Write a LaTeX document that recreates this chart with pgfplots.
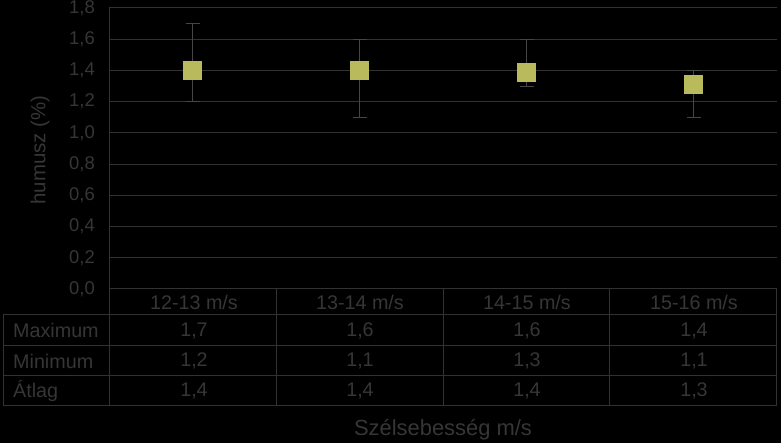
\documentclass[border=0pt]{standalone}
\usepackage{pgfplots}
\pgfplotsset{compat=1.18}
\usepackage{fontspec}
\setmainfont{Liberation Sans}
\definecolor{gridc}{RGB}{50,50,50}
\definecolor{txt}{RGB}{54,54,54}
\definecolor{errc}{RGB}{70,70,70}
\definecolor{mk}{RGB}{184,186,92}
\newcommand{\tf}{\fontsize{18.5}{20}\selectfont}
\newcommand{\cf}{\fontsize{19.8}{21}\selectfont}
\begin{document}
\begin{tikzpicture}
\fill[black] (0bp,0bp) rectangle (781bp,443bp);
\begin{axis}[
  at={(109bp,154bp)}, anchor=south west,
  scale only axis, width=668bp, height=281bp,
  xmin=0.5, xmax=4.5, ymin=0, ymax=1.8,
  xtick=\empty,
  ytick={0,0.2,0.4,0.6,0.8,1.0,1.2,1.4,1.6,1.8},
  ymajorgrids, grid style={gridc, line width=1bp},
  axis lines*=left,
  axis line style={gridc, line width=1bp, -},
  ytick style={draw=none},
  /pgf/number format/.cd, fixed, fixed zerofill, precision=1, use comma, assume math mode=true,
  /pgfplots/.cd,
  yticklabel style={font=\tf, text=txt, inner sep=0pt, xshift=-14bp},
  ylabel={humusz (\%)},
  ylabel style={font=\fontsize{20.5}{22}\selectfont, text=txt, at={(axis description cs:-0.1033,0.495)}, anchor=center},
  xlabel={Szélsebesség m/s},
  xlabel style={font=\fontsize{22}{24}\selectfont, text=txt, at={(axis description cs:0.5,-0.502)}, anchor=center},
  clip=false,
]
\addplot[only marks, mark=square*, mark size=9bp, mark options={fill=mk, draw=mk},
  error bars/.cd, y dir=both, y explicit,
  error bar style={errc, line width=1bp},
  error mark options={rotate=90, mark size=7bp, errc, line width=1bp}]
  coordinates {
  (1,1.40) += (0,0.30) -= (0,0.20)
  (2,1.40) += (0,0.20) -= (0,0.30)
  (3,1.39) += (0,0.21) -= (0,0.09)
  (4,1.31) += (0,0.09) -= (0,0.21)
};
\end{axis}
% table below the plot
\begin{scope}[gridc, line width=1bp]
\foreach \yy in {128,97,67,37} \draw (3bp,\yy bp) -- (776bp,\yy bp);
\draw (3bp,128bp) -- (3bp,37bp);
\foreach \xx in {109,276,443,609,776} \draw (\xx bp,154bp) -- (\xx bp,37bp);
\end{scope}
\begin{scope}[every node/.style={font=\cf, text=txt, inner sep=0pt}]
\node at (194bp,141bp) {12-13 m/s};
\node at (360bp,141bp) {13-14 m/s};
\node at (527bp,141bp) {14-15 m/s};
\node at (694bp,141bp) {15-16 m/s};
\node[anchor=west] at (13bp,112.5bp) {Maximum};
\node[anchor=west] at (13bp,82bp) {Minimum};
\node[anchor=west] at (13bp,52bp) {Átlag};
\node at (194bp,112.5bp) {1,7};
\node at (360bp,112.5bp) {1,6};
\node at (527bp,112.5bp) {1,6};
\node at (694bp,112.5bp) {1,4};
\node at (194bp,82bp) {1,2};
\node at (360bp,82bp) {1,1};
\node at (527bp,82bp) {1,3};
\node at (694bp,82bp) {1,1};
\node at (194bp,52bp) {1,4};
\node at (360bp,52bp) {1,4};
\node at (527bp,52bp) {1,4};
\node at (694bp,52bp) {1,3};
\end{scope}
\end{tikzpicture}
\end{document}
